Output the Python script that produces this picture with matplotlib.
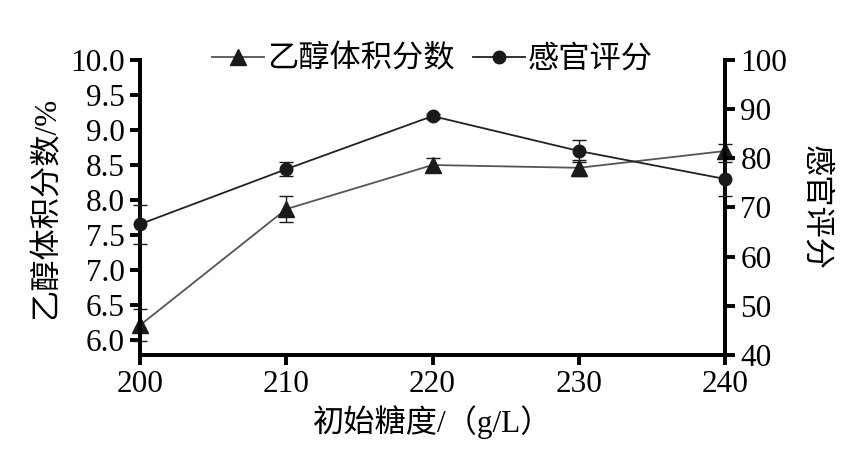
import matplotlib.pyplot as plt

plt.rcParams["font.family"] = ["Liberation Serif", "Noto Sans CJK SC"]
plt.rcParams["font.size"] = 22.5
plt.rcParams["axes.linewidth"] = 2.8

sugar = [200, 210, 220, 230, 240]
ethanol = [6.21, 7.87, 8.50, 8.46, 8.70]
ethanol_err = [0.23, 0.18, 0.10, 0.11, 0.10]
score = [66.6, 77.8, 88.6, 81.5, 75.8]
score_err = [4.0, 1.4, 0.5, 2.3, 3.5]

y1_ticks = [6.0, 6.5, 7.0, 7.5, 8.0, 8.5, 9.0, 9.5, 10.0]
y2_ticks = [40, 50, 60, 70, 80, 90, 100]

fig = plt.figure(figsize=(8.5, 4.55), dpi=100)
ax = fig.add_axes([0.1647, 0.22, 0.6883, 0.648])
ax2 = ax.twinx()

kw_eth = {"color": "#555555", "linewidth": 1.3, "marker": "^", "markersize": 11,
          "markerfacecolor": "#1a1a1a", "markeredgecolor": "#1a1a1a",
          "ecolor": "#1a1a1a", "elinewidth": 1.0, "capsize": 5, "capthick": 1.0}
kw_score = {"color": "#222222", "linewidth": 1.3, "marker": "o", "markersize": 9,
            "markerfacecolor": "#1a1a1a", "markeredgecolor": "#1a1a1a",
            "ecolor": "#1a1a1a", "elinewidth": 1.0, "capsize": 5, "capthick": 1.0}

h1 = ax.errorbar(sugar, ethanol, yerr=ethanol_err, clip_on=False, zorder=5, **kw_eth)
h2 = ax2.errorbar(sugar, score, yerr=score_err, clip_on=False, zorder=5, **kw_score)

ax.set_xlim(200, 240)
ax.set_ylim(5.786, 10.0)
ax2.set_ylim(40, 100)
ax.set_xticks(sugar)
ax.set_yticks(y1_ticks)
ax.set_yticklabels([f"{v:.1f}" for v in y1_ticks])
ax2.set_yticks(y2_ticks)

for a in (ax, ax2):
    a.spines["top"].set_visible(False)
    a.tick_params(direction="out", length=7, width=2.8, pad=4)
    a.set_facecolor("none")

ax.set_xlabel("初始糖度/（g/L）", labelpad=4)
ax.set_ylabel("乙醇体积分数/%", labelpad=6)
ax2.set_ylabel("感官评分", rotation=270, labelpad=30)

lines = [h1[0], h2[0]]
ax.legend(lines, ["乙醇体积分数", "感官评分"], loc="center", bbox_to_anchor=(0.5, 1.0),
          ncol=2, frameon=False, handlelength=1.65, handletextpad=0.1,
          columnspacing=0.6, borderaxespad=0)

plt.savefig("out.png", dpi=100)
plt.close()
